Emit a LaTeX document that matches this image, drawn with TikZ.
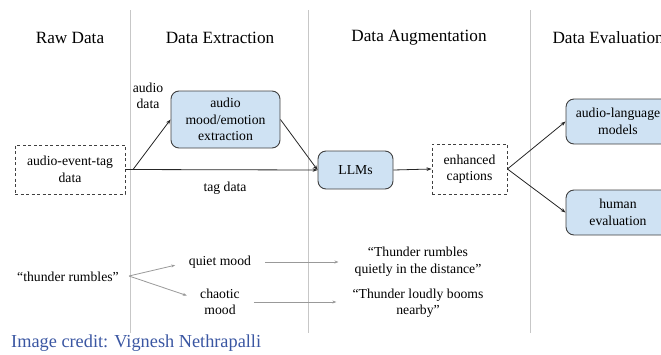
\documentclass[tikz,border=0pt]{standalone}
\usepackage{fontspec}
\setmainfont{Liberation Serif}
\usetikzlibrary{arrows.meta}
\definecolor{boxblue}{HTML}{CFE2F3}
\definecolor{credblue}{HTML}{3A56A2}
\begin{document}
\begin{tikzpicture}[x=1pt,y=-1pt,
  hdr/.style={font=\fontsize{17.2}{20}\selectfont},
  lbl/.style={font=\fontsize{13.7}{16.5}\selectfont, align=center, inner sep=0pt},
  dbox/.style={lbl, draw=black!75, line width=0.9pt, dash pattern=on 3pt off 2.5pt},
  rbox/.style={lbl, draw=black!75, line width=0.9pt, fill=boxblue, rounded corners=8pt},
  arr/.style={-{Stealth[length=5pt,width=3.6pt]}, line width=0.8pt, black!85},
  garr/.style={-{Stealth[length=4pt,width=3pt]}, line width=0.8pt, black!40},
  sep/.style={draw=black!22, line width=0.8pt}]
\useasboundingbox (0,0) rectangle (661,354);
\clip (0,0) rectangle (661,354);
% separators
\coordinate (s1t) at (130,10); \coordinate (s1b) at (130,333);
\coordinate (s2t) at (308,10); \coordinate (s2b) at (308,333);
\coordinate (s3t) at (530,10); \coordinate (s3b) at (530,333);
\draw[sep] (s1t) -- (s1b);
\draw[sep] (s2t) -- (s2b);
\draw[sep] (s3t) -- (s3b);
% headers
\node[hdr] (h1) at (70,38) {Raw Data};
\node[hdr] (h2) at (220,38) {Data Extraction};
\node[hdr] (h3) at (419,38) {Data Augmentation};
\node[hdr, anchor=west] (h4) at (549,38) {Data Evaluation};
% boxes
\node[dbox, minimum width=110pt, minimum height=49pt] (aet) at (70,169.5) {audio-event-tag\\data};
\node[rbox, minimum width=109pt, minimum height=57pt] (mood) at (225.5,119.5) {audio\\mood/emotion\\extraction};
\node[rbox, minimum width=75pt, minimum height=38pt] (llm) at (355.5,170) {LLMs};
\node[dbox, minimum width=75pt, minimum height=50pt] (enh) at (469.5,169) {enhanced\\captions};
\node[rbox, minimum width=104pt, minimum height=45pt] (alm) at (618,121.5) {audio-language\\models};
\node[rbox, minimum width=104pt, minimum height=45pt] (hum) at (618,212.5) {human\\evaluation};
% labels
\node[lbl] (ad) at (148,96) {audio\\data};
\node[lbl] (td) at (225,188) {tag data};
% connectors
\coordinate (sp) at (133,169.5);
\draw[arr] (aet.east) -- (llm.west);
\draw[arr] (sp) -- (mood.west);
\draw[arr] (mood.east) -- (llm.west);
\draw[arr] (llm.east) -- (enh.west);
\draw[arr] (enh.east) -- (alm.west);
\draw[arr] (enh.east) -- (hum.west);
% bottom example
\node[lbl] (thr) at (68,277) {``thunder rumbles''};
\node[lbl] (qm) at (220,262) {quiet mood};
\node[lbl] (cm) at (220,302) {chaotic\\mood};
\node[lbl] (q1) at (418,261.5) {``Thunder rumbles\\quietly in the distance''};
\node[lbl] (q2) at (418,303) {``Thunder loudly booms\\nearby''};
\coordinate (tp) at (129,276);
\draw[garr, shorten >=14pt] (tp) -- (qm.west);
\draw[garr, shorten >=14pt] (tp) -- (cm.west |- 0,300);
\draw[garr, shorten <=14pt, shorten >=16pt] (qm.east) -- (q1.west |- qm.east);
\draw[garr, shorten <=14pt, shorten >=16pt] (cm.east) -- (q2.west |- cm.east);
% credit
\node[anchor=west, inner sep=0pt, text=credblue, font=\fontsize{18.3}{20}\selectfont] (cred) at (11,343) {Image credit: Vignesh Nethrapalli};
\end{tikzpicture}
\end{document}
